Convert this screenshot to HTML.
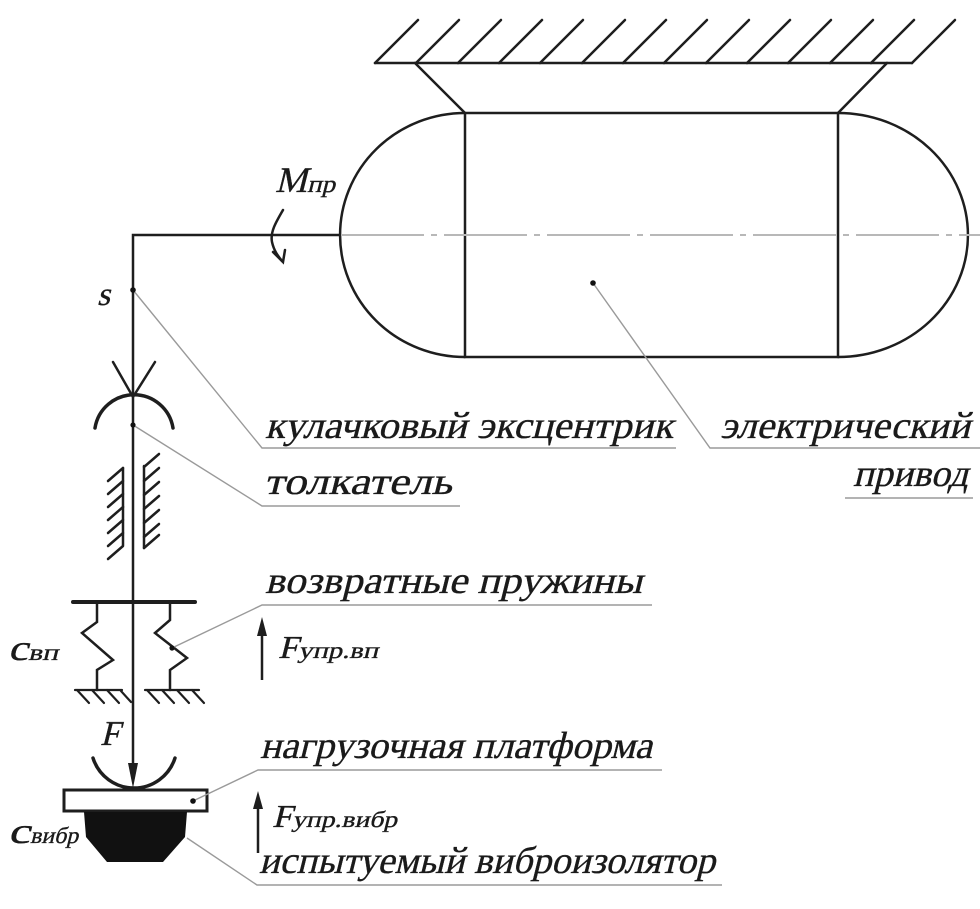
<!DOCTYPE html>
<html><head><meta charset="utf-8">
<style>
html,body{margin:0;padding:0;background:#fff;}
svg{display:block;}
text{font-family:"Liberation Serif",serif;font-style:normal;fill:#1a1a1a;stroke:#1a1a1a;stroke-width:0.35;}
</style></head>
<body>
<svg width="980" height="909" viewBox="0 0 980 909" xmlns="http://www.w3.org/2000/svg">
<g stroke="#1e1e1e" stroke-width="2.5" fill="none" stroke-linecap="round">
  <line x1="375" y1="63" x2="912" y2="63"/>
  <line x1="375" y1="63" x2="418" y2="20"/>
  <line x1="416" y1="63" x2="459" y2="20"/>
  <line x1="458" y1="63" x2="501" y2="20"/>
  <line x1="499" y1="63" x2="542" y2="20"/>
  <line x1="540" y1="63" x2="583" y2="20"/>
  <line x1="582" y1="63" x2="625" y2="20"/>
  <line x1="623" y1="63" x2="666" y2="20"/>
  <line x1="664" y1="63" x2="707" y2="20"/>
  <line x1="706" y1="63" x2="749" y2="20"/>
  <line x1="747" y1="63" x2="790" y2="20"/>
  <line x1="788" y1="63" x2="831" y2="20"/>
  <line x1="830" y1="63" x2="873" y2="20"/>
  <line x1="871" y1="63" x2="914" y2="20"/>
  <line x1="912" y1="63" x2="955" y2="20"/>
  <line x1="415" y1="63" x2="465" y2="113"/>
  <line x1="887" y1="63" x2="838" y2="113"/>
  <rect x="465" y="113" width="373" height="244"/>
  <path d="M465,113 A125,122 0 0 0 465,357"/>
  <path d="M838,113 A130,122 0 0 1 838,357"/>
  <polyline points="340,235 133,235 133,775"/>
</g>
<line x1="341" y1="235" x2="980" y2="235" stroke="#b8b8b8" stroke-width="2" stroke-dasharray="83 7 6 7"/>

<g stroke="#1e1e1e" stroke-width="2.5" fill="none" stroke-linecap="round">
  <path d="M283,210 C276,222 270,232 272,242 C274,251 278,256 282,261"/>
  <polyline points="273,252 283,262 285,250"/>
</g>

<g stroke="#1e1e1e" fill="none" stroke-linecap="round">
  <polyline points="113,362 133,397 155,362" stroke-width="2.5"/>
  <path d="M95,428 A39.5,39.5 0 0 1 173,428" stroke-width="3.5"/>
  <g stroke-width="2.5">
    <line x1="123" y1="468" x2="123" y2="545"/>
    <line x1="123" y1="468" x2="108" y2="481"/>
    <line x1="123" y1="481" x2="108" y2="494"/>
    <line x1="123" y1="494" x2="108" y2="507"/>
    <line x1="123" y1="507" x2="108" y2="520"/>
    <line x1="123" y1="520" x2="108" y2="533"/>
    <line x1="123" y1="533" x2="108" y2="546"/>
    <line x1="123" y1="546" x2="108" y2="559"/>
    <line x1="144" y1="466" x2="144" y2="548"/>
    <line x1="144" y1="467" x2="159" y2="454"/>
    <line x1="144" y1="481" x2="159" y2="468"/>
    <line x1="144" y1="495" x2="159" y2="482"/>
    <line x1="144" y1="509" x2="159" y2="496"/>
    <line x1="144" y1="523" x2="159" y2="510"/>
    <line x1="144" y1="537" x2="159" y2="524"/>
    <line x1="144" y1="548" x2="159" y2="535"/>
  </g>
  <line x1="73" y1="602" x2="195" y2="602" stroke-width="4"/>
  <polyline points="97,602 97,622 82,633 113,660 97,670 97,690" stroke-width="2.5"/>
  <polyline points="170,602 170,620 155,633 187,658 170,670 170,690" stroke-width="2.5"/>
  <g stroke-width="2.2">
    <line x1="75" y1="690" x2="122" y2="690"/>
    <line x1="77" y1="690" x2="89" y2="703"/>
    <line x1="92" y1="690" x2="104" y2="703"/>
    <line x1="107" y1="690" x2="119" y2="703"/>
    <line x1="121" y1="691" x2="131" y2="702"/>
    <line x1="145" y1="690" x2="199" y2="690"/>
    <line x1="147" y1="690" x2="159" y2="703"/>
    <line x1="162" y1="690" x2="174" y2="703"/>
    <line x1="177" y1="690" x2="189" y2="703"/>
    <line x1="192" y1="690" x2="204" y2="703"/>
  </g>
  <path d="M93,758 A43,43 0 0 0 175,758" stroke-width="3.5"/>
</g>
<polygon points="128,763 138,763 133,788" fill="#1e1e1e"/>

<rect x="64" y="790" width="143" height="21" fill="#fff" stroke="#1e1e1e" stroke-width="3"/>
<polygon points="84,812 86,837 107,862 163,862 185,837 187,812" fill="#111"/>

<g stroke="#1e1e1e" stroke-width="2.5">
  <line x1="262" y1="632" x2="262" y2="680"/>
  <line x1="258" y1="805" x2="258" y2="853"/>
</g>
<polygon points="257,636 267,636 262,617" fill="#1e1e1e"/>
<polygon points="253,809 263,809 258,791" fill="#1e1e1e"/>

<g stroke="#9a9a9a" stroke-width="1.4" fill="none">
  <polyline points="133,290 262,448 676,448"/>
  <polyline points="133,425 262,506 460,506"/>
  <polyline points="172,648 262,605 652,605"/>
  <polyline points="193,801 258,770 662,770"/>
  <polyline points="187,838 257,885 722,885"/>
  <polyline points="593,283 710,448 980,448"/>
  <line x1="845" y1="498" x2="973" y2="498"/>
</g>
<g fill="#111">
  <circle cx="133" cy="290" r="2.8"/>
  <circle cx="133" cy="425" r="2.6"/>
  <circle cx="593" cy="283" r="2.8"/>
  <circle cx="172" cy="648" r="2.6"/>
  <circle cx="193" cy="801" r="2.8"/>
</g>

<text transform="translate(265,438) skewX(-14)" font-size="38" textLength="408" lengthAdjust="spacingAndGlyphs">кулачковый эксцентрик</text>
<text transform="translate(264,494) skewX(-14)" font-size="38" textLength="188" lengthAdjust="spacingAndGlyphs">толкатель</text>
<text transform="translate(720,438) skewX(-14)" font-size="38" textLength="250" lengthAdjust="spacingAndGlyphs">электрический</text>
<text transform="translate(853,486) skewX(-14)" font-size="38" textLength="115" lengthAdjust="spacingAndGlyphs">привод</text>
<text transform="translate(265,593) skewX(-14)" font-size="38" textLength="377" lengthAdjust="spacingAndGlyphs">возвратные пружины</text>
<text transform="translate(260,758) skewX(-14)" font-size="38" textLength="392" lengthAdjust="spacingAndGlyphs">нагрузочная платформа</text>
<text transform="translate(259,873) skewX(-14)" font-size="38" textLength="456" lengthAdjust="spacingAndGlyphs">испытуемый виброизолятор</text>

<text transform="translate(275,192) skewX(-14)" font-size="36" textLength="32" lengthAdjust="spacingAndGlyphs">M</text>
<text transform="translate(307,192) skewX(-14)" font-size="24" textLength="28" lengthAdjust="spacingAndGlyphs">пр</text>
<text transform="translate(97,305) skewX(-14)" font-size="33">s</text>
<text transform="translate(100,745) skewX(-14)" font-size="35">F</text>

<text transform="translate(278,658) skewX(-14)" font-size="32" textLength="20" lengthAdjust="spacingAndGlyphs">F</text>
<text transform="translate(298,658) skewX(-14)" font-size="23" textLength="80" lengthAdjust="spacingAndGlyphs">упр.вп</text>
<text transform="translate(272,827) skewX(-14)" font-size="32" textLength="20" lengthAdjust="spacingAndGlyphs">F</text>
<text transform="translate(292,827) skewX(-14)" font-size="23" textLength="105" lengthAdjust="spacingAndGlyphs">упр.вибр</text>

<text transform="translate(8,660) skewX(-14)" font-size="36" textLength="20" lengthAdjust="spacingAndGlyphs">с</text>
<text transform="translate(28,660) skewX(-14)" font-size="23" textLength="30" lengthAdjust="spacingAndGlyphs">вп</text>
<text transform="translate(8,843) skewX(-14)" font-size="36" textLength="22" lengthAdjust="spacingAndGlyphs">с</text>
<text transform="translate(30,843) skewX(-14)" font-size="23" textLength="48" lengthAdjust="spacingAndGlyphs">вибр</text>
</svg>
</body></html>
